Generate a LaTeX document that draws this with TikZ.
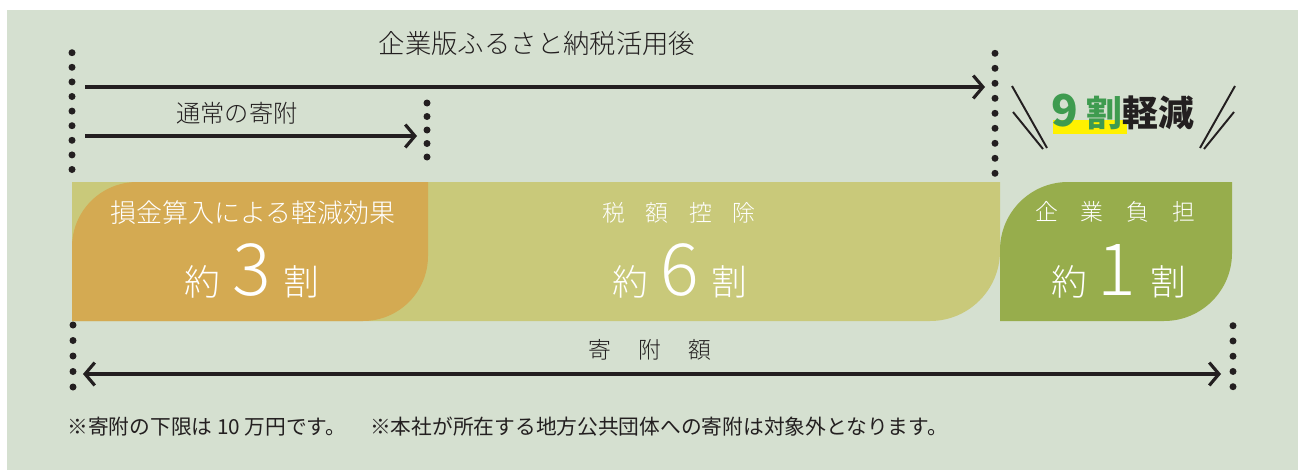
\documentclass[tikz,border=0pt]{standalone}
\usepackage{fontspec}
\setmainfont{Noto Sans CJK JP}
\newfontfamily\lite{Noto Sans CJK JP Light}
\usetikzlibrary{arrows.meta}
\definecolor{bgc}{HTML}{D5E0D0}
\definecolor{ink}{HTML}{231F20}
\definecolor{orng}{HTML}{D4AA52}
\definecolor{ylgr}{HTML}{C9C97A}
\definecolor{grn}{HTML}{97AD4C}
\definecolor{nine}{HTML}{3E9B4F}
\definecolor{hilite}{HTML}{FFF100}
\begin{document}
\begin{tikzpicture}[x=0.02cm,y=-0.02cm]

\tikzstyle{dot}=[fill=ink]
\tikzstyle{arr}=[line width=1.8pt,draw=ink,-{Straight Barb[length=5.5pt,width=13pt]}]
\tikzstyle{dbl}=[line width=1.8pt,draw=ink,{Straight Barb[length=5.5pt,width=13pt]}-{Straight Barb[length=5.5pt,width=13pt]}]
\tikzstyle{lbl}=[ink,font=\lite\fontsize{14pt}{16pt}\selectfont]
\tikzstyle{wht}=[white,font=\lite\fontsize{13pt}{15pt}\selectfont]
\tikzstyle{big}=[white,font=\lite\fontsize{20.4pt}{22pt}\selectfont,anchor=base]
\tikzstyle{sls}=[line width=1.1pt,draw=ink]

\useasboundingbox (0,0) rectangle (1298,470);
\fill[bgc] (7,10) rectangle (1298,470);

\fill[ylgr] (72,182) -- (1000,182) -- (1000,251) arc[start angle=0,end angle=90,radius=70] -- (72,321) -- cycle;
\fill[orng] (72,321) -- (72,247) arc[start angle=180,end angle=270,radius=65] -- (428,182) -- (428,256) arc[start angle=0,end angle=90,radius=65] -- cycle;
\fill[grn] (1000,321) -- (1000,250) arc[start angle=180,end angle=270,radius=68] -- (1232,182) -- (1232,253) arc[start angle=0,end angle=90,radius=68] -- cycle;

\foreach \i in {0,...,8} \fill[dot] (72,{52.7+14.6*\i}) circle[radius=3.5];
\foreach \i in {0,...,8} \fill[dot] (995,{53.3+15*\i}) circle[radius=3.5];
\foreach \i in {0,...,4} \fill[dot] (427,{103+13.5*\i}) circle[radius=3.5];
\foreach \i in {0,...,4} \fill[dot] (73,{325+15.5*\i}) circle[radius=3.5];
\foreach \i in {0,...,4} \fill[dot] (1233,{325.7+15.25*\i}) circle[radius=3.5];

\node[shape=coordinate] (tl) at (85,87){};
\node[shape=coordinate] (tr) at (985,87){};
\node[shape=coordinate] (ml) at (85,136){};
\node[shape=coordinate] (mr) at (417,136){};
\node[shape=coordinate] (bl) at (83,374){};
\node[shape=coordinate] (br) at (1221,374){};

\draw[arr] (tl)--(tr);
\draw[arr] (ml)--(mr);
\draw[dbl] (bl)--(br);

\node[lbl,font=\lite\fontsize{15pt}{17pt}\selectfont] (ttl) at (537,43) {企業版ふるさと納税活用後};
\node[lbl,font=\lite\fontsize{13.8pt}{16pt}\selectfont] (tsu) at (237,113) {通常の寄附};
\node[lbl,font=\lite\fontsize{13pt}{15pt}\selectfont] (gak) at (650,350) {寄\hspace{1.2em}附\hspace{1.2em}額};

\node[wht,font=\lite\fontsize{14.8pt}{16pt}\selectfont] (son) at (253,213) {損金算入による軽減効果};
\node[wht] (zei) at (679,213) {税\hspace{0.9em}額\hspace{0.9em}控\hspace{0.9em}除};
\node[wht] (kig) at (1115,212) {企\hspace{1em}業\hspace{1em}負\hspace{1em}担};

\node[big] (r3) at (252,295) {約\hspace{7pt}{\fontsize{41pt}{41pt}\selectfont 3}\hspace{7pt}割};
\node[big] (r6) at (680,295) {約\hspace{7pt}{\fontsize{41pt}{41pt}\selectfont 6}\hspace{7pt}割};
\node[big] (r1) at (1119,295) {約\hspace{6pt}{\fontsize{41pt}{41pt}\selectfont 1}\hspace{8pt}割};

\fill[hilite] (1053,120) rectangle (1127,134);
\node[anchor=base west,inner sep=0,ink,font=\bfseries\fontsize{20.4pt}{22pt}\selectfont] (kei) at (1051,126) {{\color{nine}\fontsize{25pt}{27pt}\selectfont 9}\hspace{5pt}{\color{nine}割}軽減};

\draw[sls] (1012,86) -- (1047,148);
\draw[sls] (1013,112) -- (1043,149);
\draw[sls] (1235,86) -- (1200,148);
\draw[sls] (1234,112) -- (1204,149);

\node[anchor=west,inner sep=0,ink,font=\fontsize{11.8pt}{13pt}\selectfont] (note) at (67,427) {※寄附の下限は 10 万円です。\hspace{1.15em}※本社が所在する地方公共団体への寄附は対象外となります。};

\end{tikzpicture}
\end{document}
